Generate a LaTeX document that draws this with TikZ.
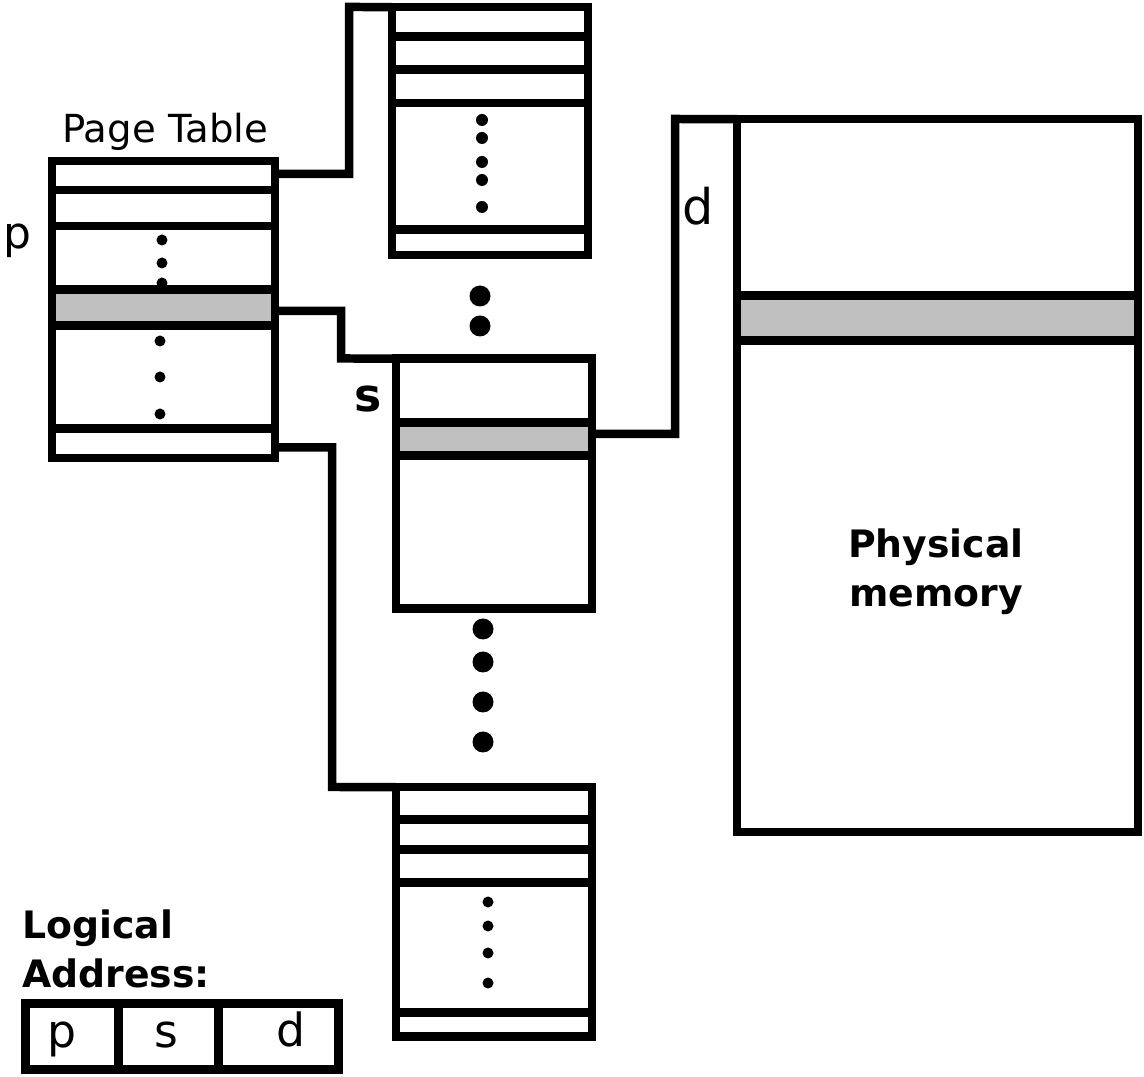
\documentclass[tikz,border=0pt]{standalone}
\usepackage{fontspec}
\setmainfont{DejaVu Sans}
\definecolor{rowgray}{HTML}{C0C0C0}
\begin{document}
\begin{tikzpicture}[x=0.02cm,y=-0.02cm,
  box/.style={draw, line width=0.17cm, rectangle, inner sep=0, outer sep=0},
  row/.style={line width=0.17cm},
  wire/.style={line width=0.17cm, line join=miter},
  lbl/.style={inner sep=0, anchor=base west},
  ctr/.style={inner sep=0, anchor=base},
  sdot/.style={fill=black},
]
\useasboundingbox (0,0) rectangle (1144,1077);

% gray rows
\fill[rowgray] (52,289.5) rectangle (275,325.5);
\fill[rowgray] (396,422.5) rectangle (592,455.5);
\fill[rowgray] (737,295.5) rectangle (1138,340.5);

% boxes
\node[box, minimum width=4.46cm, minimum height=5.94cm] (pt) at (163.5,309.5) {};
\node[box, minimum width=3.92cm, minimum height=4.96cm] (t1) at (490,131) {};
\node[box, minimum width=3.92cm, minimum height=5.00cm] (t2) at (494,483.5) {};
\node[box, minimum width=3.92cm, minimum height=4.99cm] (t3) at (494,911.75) {};
\node[box, minimum width=8.02cm, minimum height=14.26cm] (pm) at (937.5,475.5) {};
\node[box, minimum width=6.26cm, minimum height=1.32cm] (la) at (182,1036.5) {};

% row lines
\foreach \y in {190,226,289.5,325.5,428.5}
  \draw[row] (pt.west |- 0,\y) -- (pt.east |- 0,\y);
\foreach \y in {36.5,69.5,103,229.5}
  \draw[row] (t1.west |- 0,\y) -- (t1.east |- 0,\y);
\foreach \y in {422.5,455.5}
  \draw[row] (t2.west |- 0,\y) -- (t2.east |- 0,\y);
\foreach \y in {819.5,849.5,882.5,1012.5}
  \draw[row] (t3.west |- 0,\y) -- (t3.east |- 0,\y);
\foreach \y in {295.5,340.5}
  \draw[row] (pm.west |- 0,\y) -- (pm.east |- 0,\y);
\foreach \x in {118.5,218.5}
  \draw[row] (la.north -| \x,0) -- (la.south -| \x,0);

% dots
\foreach \y in {240,263,283}
  \fill[sdot] (162,\y) circle (0.11cm);
\foreach \y in {341,377,414}
  \fill[sdot] (160,\y) circle (0.11cm);
\foreach \y in {120,138,162,180,207}
  \fill[sdot] (482,\y) circle (0.12cm);
\foreach \y in {902,926,953,983}
  \fill[sdot] (488,\y) circle (0.11cm);
\foreach \y in {296,326}
  \fill[sdot] (480,\y) circle (0.21cm);
\foreach \y in {629,662,702,742}
  \fill[sdot] (483,\y) circle (0.21cm);

% connectors
\coordinate (k1) at (349,7);
\coordinate (k2) at (341,358.5);
\coordinate (k3) at (332,787);
\coordinate (k4) at (675,119);
\draw[wire] (pt.east |- 0,174) -| (k1) -- (t1.north west);
\draw[wire] (pt.east |- 0,311) -| (k2) -- (t2.north west);
\draw[wire] (pt.east |- 0,447.5) -| (k3) -- (t3.north west);
\draw[wire] (t2.east |- 0,434) -| (k4) -- (pm.north west);

% labels
\node[lbl, font=\fontsize{22}{26}\selectfont] (ptlabel) at (62,143) {Page Table};
\node[lbl, font=\fontsize{25}{30}\selectfont] (plbl) at (3,249) {p};
\node[lbl, font=\bfseries\fontsize{26}{30}\selectfont] (slbl) at (354,412) {s};
\node[lbl, font=\fontsize{28}{32}\selectfont] (dlbl) at (682,225) {d};
\node[lbl, font=\bfseries\fontsize{21.5}{26}\selectfont] (logical) at (22,939) {Logical};
\node[lbl, font=\bfseries\fontsize{21.5}{26}\selectfont] (address) at (22,988) {Address:};
\node[ctr, font=\bfseries\fontsize{21.5}{26}\selectfont] (phys1) at (936,558) {Physical};
\node[ctr, font=\bfseries\fontsize{21.5}{26}\selectfont] (phys2) at (936,607) {memory};
\node[ctr, font=\fontsize{26}{30}\selectfont] (lap) at (62,1048) {p};
\node[ctr, font=\fontsize{26}{30}\selectfont] (las) at (166,1048) {s};
\node[ctr, font=\fontsize{26}{30}\selectfont] (lad) at (291,1047) {d};
\end{tikzpicture}
\end{document}
